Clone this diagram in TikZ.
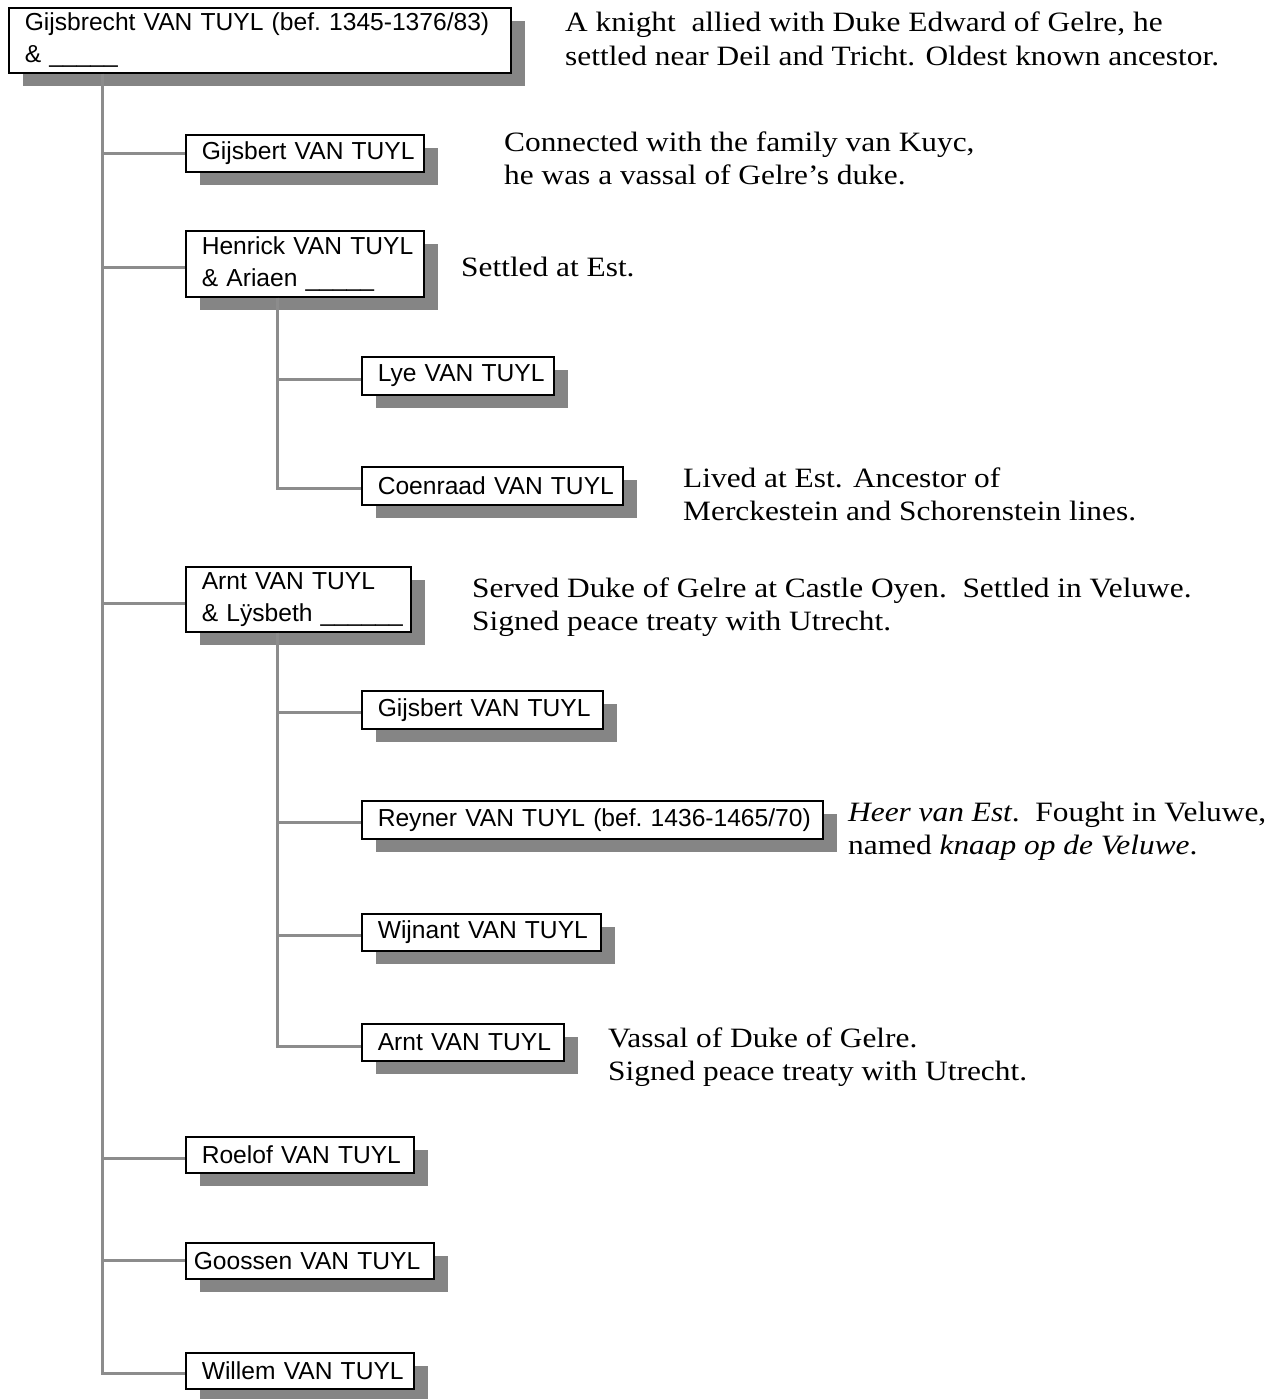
\documentclass[tikz,border=0pt]{standalone}
\usepackage{fontspec}
\setmainfont[FakeStretch=1.12]{Liberation Serif}
\newfontfamily\boxfont{Liberation Sans}
\usetikzlibrary{shadows}
\begin{document}
\begin{tikzpicture}[x=1pt,y=-1pt,
  pbox/.style={draw, line width=1.6pt, fill=white, align=left, anchor=north west,
    inner xsep=16pt, inner ysep=0pt, font=\boxfont\fontsize{24.6}{32}\selectfont,
    drop shadow={shadow xshift=14pt, shadow yshift=-13pt, fill=black!48, opacity=1}},
  conn/.style={draw=black!45, line width=3pt},
  note/.style={anchor=base west, inner sep=0pt, font=\fontsize{28}{33}\selectfont}]
\useasboundingbox (0,0) rectangle (1287,1399);

% boxes
\node[pbox, text width=470pt, minimum height=65pt] (b1) at (8,7) {\mbox{Gijsbrecht VAN TUYL (bef.\ 1345-1376/83)}\\\mbox{\& \_\_\_\_\_}};
\node[pbox, text width=206pt, minimum height=37pt] (b2) at (185,134) {\mbox{Gijsbert VAN TUYL}};
\node[pbox, text width=206pt, minimum height=66pt] (b3) at (185,230) {\mbox{Henrick VAN TUYL}\\\mbox{\& Ariaen \_\_\_\_\_}};
\node[pbox, text width=160pt, minimum height=38pt] (b4) at (361,356) {\mbox{Lye VAN TUYL}};
\node[pbox, text width=229pt, minimum height=38pt] (b5) at (361,466) {\mbox{Coenraad VAN TUYL}};
\node[pbox, text width=193pt, minimum height=65pt] (b6) at (185,566) {\mbox{Arnt VAN TUYL}\\\mbox{\& Lÿsbeth \_\_\_\_\_\_}};
\node[pbox, text width=209pt, minimum height=38pt] (b7) at (361,690) {\mbox{Gijsbert VAN TUYL}};
\node[pbox, text width=429pt, minimum height=38pt] (b8) at (361,800) {\mbox{Reyner VAN TUYL (bef.\ 1436-1465/70)}};
\node[pbox, text width=207pt, minimum height=37pt] (b9) at (361,913) {\mbox{Wijnant VAN TUYL}};
\node[pbox, text width=170pt, minimum height=37pt] (b10) at (361,1023) {\mbox{Arnt VAN TUYL}};
\node[pbox, text width=196pt, minimum height=36pt] (b11) at (185,1136) {\mbox{Roelof VAN TUYL}};
\node[pbox, text width=232pt, inner xsep=8pt, minimum height=36pt] (b12) at (185,1242) {\mbox{Goossen VAN TUYL}};
\node[pbox, text width=196pt, minimum height=36pt] (b13) at (185,1352) {\mbox{Willem VAN TUYL}};

% connectors
\coordinate (tr) at ([xshift=94pt]b1.south west);
\draw[conn] (tr) |- ([yshift=-3pt]b13.west);
\foreach \n in {b2,b12} \draw[conn] (\n.west) -- (\n.west -| tr);
\foreach \n in {b3,b6,b11} \draw[conn] ([yshift=-4pt]\n.west) -- ([yshift=-4pt]\n.west -| tr);
\coordinate (s1) at ([xshift=92pt]b3.south west);
\draw[conn] (s1) |- ([yshift=-3pt]b5.west);
\draw[conn] ([yshift=-4pt]b4.west) -- ([yshift=-4pt]b4.west -| s1);
\coordinate (s2) at ([xshift=92pt]b6.south west);
\draw[conn] (s2) |- ([yshift=-4pt]b10.west);
\foreach \n in {b7,b8,b9} \draw[conn] ([yshift=-3pt]\n.west) -- ([yshift=-3pt]\n.west -| s2);

% notes
\node[note] (n1a) at (565,32) {A knight\ \ allied with Duke Edward of Gelre, he};
\node[note] (n1b) at (565,66) {settled near Deil and Tricht. Oldest known ancestor.};
\node[note] (n2a) at (504,152) {Connected with the family van Kuyc,};
\node[note] (n2b) at (504,185) {he was a vassal of Gelre’s duke.};
\node[note] (n3) at (461,276) {Settled at Est.};
\node[note] (n5a) at (683,487) {Lived at Est. Ancestor of};
\node[note] (n5b) at (683,520) {Merckestein and Schorenstein lines.};
\node[note] (n6a) at (472,597) {Served Duke of Gelre at Castle Oyen.\ \ Settled in Veluwe.};
\node[note] (n6b) at (472,630) {Signed peace treaty with Utrecht.};
\node[note] (n8a) at (848,821) {\textit{Heer van Est}.\ \ Fought in Veluwe,};
\node[note] (n8b) at (848,854) {named \textit{knaap op de Veluwe}.};
\node[note] (n10a) at (608,1047) {Vassal of Duke of Gelre.};
\node[note] (n10b) at (608,1080) {Signed peace treaty with Utrecht.};
\end{tikzpicture}
\end{document}
